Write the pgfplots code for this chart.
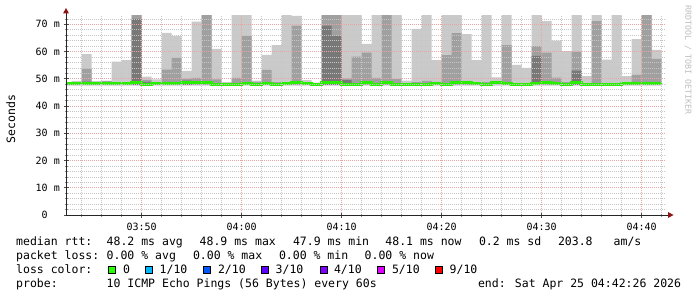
\documentclass[border=0pt]{standalone}
\usepackage{fontspec}
\usepackage{pgfplots}
\pgfplotsset{compat=1.18}
\usepackage{pgfplotstable}
\setmainfont{DejaVu Sans Mono}
\definecolor{smokeL}{RGB}{202,202,202}
\definecolor{smokeM}{RGB}{160,160,160}
\definecolor{smokeD}{RGB}{120,120,120}
\definecolor{medgreen}{RGB}{40,238,0}
\definecolor{mgridc}{RGB}{232,165,165}
\definecolor{gridc}{RGB}{198,198,198}
\definecolor{arrowred}{RGB}{140,20,20}
\definecolor{wmc}{RGB}{190,190,190}
\definecolor{l0}{HTML}{26FF00}
\definecolor{l1}{HTML}{00B8FF}
\definecolor{l2}{HTML}{0059FF}
\definecolor{l3}{HTML}{5E00FF}
\definecolor{l4}{HTML}{7E00FF}
\definecolor{l5}{HTML}{DD00FF}
\definecolor{l9}{HTML}{FF0000}
\newcommand\legfont{\fontsize{11.5bp}{14bp}\selectfont}
\newcommand\tickfont{\fontsize{10bp}{12bp}\selectfont}

\pgfplotstableread{
x L M D
-7.567 47.7 47.7 47.7
-7.567 48.6 47.7 47.7
-7 49.2 47.7 47.7
-6 59.1 53.7 49.0
-5 49.1 48.8 47.7
-4 49.3 49.1 47.7
-3 56.3 48.8 47.7
-2 56.9 48.8 47.7
-1 75 75 72.0
0 50.8 49.6 48.9
1 49.8 48.5 47.7
2 66.9 53.4 47.7
3 65.8 57.7 47.7
4 52.9 50.1 49.3
5 71.0 50.3 47.7
6 75 75 47.7
7 61.0 49.8 47.7
8 48.8 47.7 47.7
9 75 50.3 47.7
10 75 65.8 47.7
11 49.3 48.9 47.7
12 58.8 53.3 47.7
13 62.4 48.8 47.7
14 75 48.8 47.7
15 73.1 69.5 47.7
16 49.5 48.8 47.7
17 48.6 47.7 47.7
18 75 75 69.5
19 75 75 65.8
20 75 50.2 49.5
21 75 58.1 47.7
22 62.8 59.6 47.7
23 75 50.3 47.7
24 75 75 47.7
25 75 49.9 47.7
26 49.3 47.7 47.7
27 68.3 48.8 47.7
28 75 49.2 47.7
29 56.9 48.9 47.7
30 75 58.7 47.7
31 75 66.8 47.7
32 66.4 49.2 47.7
33 56.9 48.8 47.7
34 75 48.8 47.7
35 50.5 47.7 47.7
36 75 62.4 47.7
37 55.1 47.7 47.7
38 54.0 47.7 47.7
39 75 62.0 58.4
40 71.2 59.6 47.7
41 64.0 50.4 47.7
42 60.2 48.8 47.7
43 75 60.0 53.0
44 51.0 47.7 47.7
45 75 71.2 47.7
46 57.0 47.7 47.7
47 75 47.7 47.7
48 51.0 47.7 47.7
49 64.6 51.4 47.7
50 75 75 47.7
51 60.6 57.3 47.7
52 60.6 57.3 47.7
52 47.7 47.7 47.7
}\smoke

\pgfplotstableread{
x m
-7.567 48.1
-7 48.1
-6 48.4
-5 48.1
-4 48.3
-3 48.1
-2 48.1
-1 48.6
0 48.0
1 48.2
2 48.2
3 48.2
4 48.7
5 48.5
6 48.5
7 48.0
8 48.0
9 48.0
10 48.2
11 48.0
12 48.4
13 48.0
14 48.2
15 48.5
16 48.3
17 48.0
18 48.6
19 48.6
20 48.0
21 48.0
22 48.6
23 48.0
24 48.6
25 48.0
26 48.0
27 48.0
28 48.0
29 48.1
30 48.0
31 48.5
32 48.5
33 48.3
34 48.0
35 48.5
36 48.2
37 48.0
38 48.0
39 48.1
40 48.5
41 48.4
42 48.0
43 48.5
44 48.0
45 48.0
46 48.0
47 48.0
48 48.1
49 48.1
50 48.2
51 48.1
52 48.1
}\medtab

\newcommand\T[3]{\node[anchor=base west, inner sep=0pt, font=\legfont] at (#1,#2) {#3};}
\newcommand\B[3]{\draw[fill=#3, line width=0.5bp, draw=black] (#1,#2) rectangle ++(7,7.5);}

\begin{document}
\begin{tikzpicture}[x=1bp,y=1bp]
\path[use as bounding box] (0,0) rectangle (697,297);
\begin{axis}[
  at={(66bp,82bp)}, anchor=south west,
  scale only axis, width=600bp, height=200bp,
  xmin=-7.567, xmax=52.433, ymin=0, ymax=73.42,
  axis line style={draw=none},
  axis on top,
  tick pos=left,
  xtick={0,10,20,30,40,50},
  xticklabels={03:50,04:00,04:10,04:20,04:30,04:40},
  minor xtick={-6,-4,-2,2,4,6,8,12,14,16,18,22,24,26,28,32,34,36,38,42,44,46,48,52},
  ytick={0,10,20,30,40,50,60,70},
  yticklabels={0\phantom{00},10 m,20 m,30 m,40 m,50 m,60 m,70 m},
  minor ytick={2,4,6,8,12,14,16,18,22,24,26,28,32,34,36,38,42,44,46,48,52,54,56,58,62,64,66,68,72},
  grid=both,
  major grid style={dash pattern=on 1bp off 1bp, mgridc, line width=0.6bp},
  minor grid style={dash pattern=on 1bp off 1bp, gridc, line width=0.6bp},
  tick align=center, major tick length=5bp, minor tick length=3bp,
  major tick style={black!70, line width=0.6bp},
  minor tick style={black!45, line width=0.6bp},
  xticklabel style={font=\tickfont, anchor=base, inner sep=0pt, yshift=-12.7bp},
  yticklabel style={font=\tickfont, anchor=east, inner sep=0pt},
  xticklabel shift=0pt, yticklabel shift=3.5bp,
]
\addplot[fill=smokeL, draw=none, const plot] table[x=x,y=L]{\smoke};
\addplot[fill=smokeM, draw=none, const plot] table[x=x,y=M]{\smoke};
\addplot[fill=smokeD, draw=none, const plot] table[x=x,y=D]{\smoke};
\addplot[medgreen, line width=3bp, const plot] table[x=x,y=m]{\medtab};
\end{axis}
% axis lines and arrows
\draw[black!85, line width=0.8bp] (66,82) -- (668.5,82);
\draw[black!85, line width=0.8bp] (66,82) -- (66,284);
\fill[arrowred] (668,85) -- (673.5,82) -- (668,79) -- cycle;
\fill[arrowred] (63,283.5) -- (66,289) -- (69,283.5) -- cycle;
% y label
\node[rotate=90, font=\fontsize{11.5bp}{14bp}\selectfont, inner sep=0pt] at (10.8,178) {Seconds};
% watermark
\node[rotate=-90, font=\fontsize{8.3bp}{10bp}\selectfont, text=wmc, inner sep=0pt] at (688,237) {RRDTOOL / TOBI OETIKER};
% legend
\T{16}{52}{median rtt:}
\T{106.5}{52}{48.2 ms avg}
\T{199.5}{52}{48.9 ms max}
\T{292.8}{52}{47.9 ms min}
\T{385.2}{52}{48.1 ms now}
\T{478.8}{52}{0.2 ms sd}
\T{557.8}{52}{203.8}
\T{613.5}{52}{am/s}
\T{16}{38}{packet loss:}
\T{106.5}{38}{0.00 \% avg}
\T{192.8}{38}{0.00 \% max}
\T{278.8}{38}{0.00 \% min}
\T{364.5}{38}{0.00 \% now}
\T{16}{24}{loss color:}
\B{108.7}{23.7}{l0}\T{122.8}{24}{0}
\B{145.7}{23.7}{l1}\T{159.5}{24}{1/10}
\B{203.3}{23.7}{l2}\T{217.8}{24}{2/10}
\B{261.7}{23.7}{l3}\T{275.5}{24}{3/10}
\B{320}{23.7}{l4}\T{333.8}{24}{4/10}
\B{377.3}{23.7}{l5}\T{391.8}{24}{5/10}
\B{435.7}{23.7}{l9}\T{449.5}{24}{9/10}
\T{16}{10}{probe:}
\T{106.5}{10}{10 ICMP Echo Pings (56 Bytes) every 60s}
\T{477.8}{10}{end: Sat Apr 25 04:42:26 2026}
\end{tikzpicture}
\end{document}
